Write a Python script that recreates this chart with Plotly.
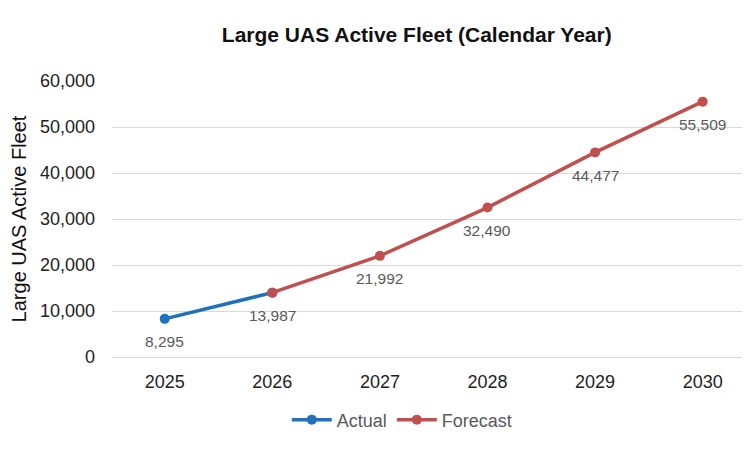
import plotly.graph_objects as go

years = ["2025", "2026", "2027", "2028", "2029", "2030"]
actual_years = ["2025", "2026"]
actual_values = [8295, 13987]
forecast_years = ["2026", "2027", "2028", "2029", "2030"]
forecast_values = [13987, 21992, 32490, 44477, 55509]
label_years = ["2025", "2026", "2027", "2028", "2029", "2030"]
label_values = [8295, 13987, 21992, 32490, 44477, 55509]

BLUE = "#1f70bd"
RED = "#c0504d"
FONT = "Liberation Sans, Arial, sans-serif"

fig = go.Figure()
fig.add_trace(go.Scatter(
    x=actual_years, y=actual_values, name="Actual", mode="lines+markers",
    line=dict(color=BLUE, width=3.5), marker=dict(size=10, color=BLUE),
    hoverinfo="skip"))
fig.add_trace(go.Scatter(
    x=forecast_years, y=forecast_values, name="Forecast", mode="lines+markers",
    line=dict(color=RED, width=3.5), marker=dict(size=10, color=RED),
    hoverinfo="skip"))

for xv, yv in zip(label_years, label_values):
    fig.add_annotation(x=years.index(xv), y=yv, xref="x", yref="y", text=f"{yv:,}",
                       showarrow=False, yshift=-23,
                       font=dict(family=FONT, size=15.5, color="#595959"))

fig.update_layout(
    width=750, height=450,
    paper_bgcolor="white", plot_bgcolor="white",
    margin=dict(l=104, r=8, t=73, b=101, autoexpand=False),
    title=dict(text="<b>Large UAS Active Fleet (Calendar Year)</b>",
               x=0.545, xanchor="center", y=0.94, yref="container",
               yanchor="middle",
               font=dict(family=FONT, size=21, color="#111111")),
    font=dict(family=FONT, color="#222222"),
    showlegend=True,
    legend=dict(orientation="h", x=0.455, xanchor="center", y=-0.228, yanchor="middle",
                font=dict(family=FONT, size=18, color="#595959"),
                itemwidth=40),
    xaxis=dict(type="category", categoryorder="array", categoryarray=years,
               range=[-0.49, 5.44], showgrid=False, zeroline=False, showline=False,
               automargin=False,
               ticks="", tickfont=dict(family=FONT, size=18, color="#222222"),
               ticklabelstandoff=12),
    yaxis=dict(range=[0, 60000], tickvals=[0, 10000, 20000, 30000, 40000, 50000, 60000],
               ticktext=["0", "10,000", "20,000", "30,000", "40,000", "50,000", "60,000"],
               showgrid=True, gridcolor="#d9d9d9", gridwidth=1, zeroline=True,
               zerolinecolor="#d9d9d9", zerolinewidth=1, showline=False, ticks="",
               automargin=False,
               tickfont=dict(family=FONT, size=18, color="#222222"),
               ticklabelstandoff=16,
               title=dict(text="Large UAS Active Fleet", standoff=23,
                          font=dict(family=FONT, size=20, color="#111111"))),
)

fig.write_html("out.html")
